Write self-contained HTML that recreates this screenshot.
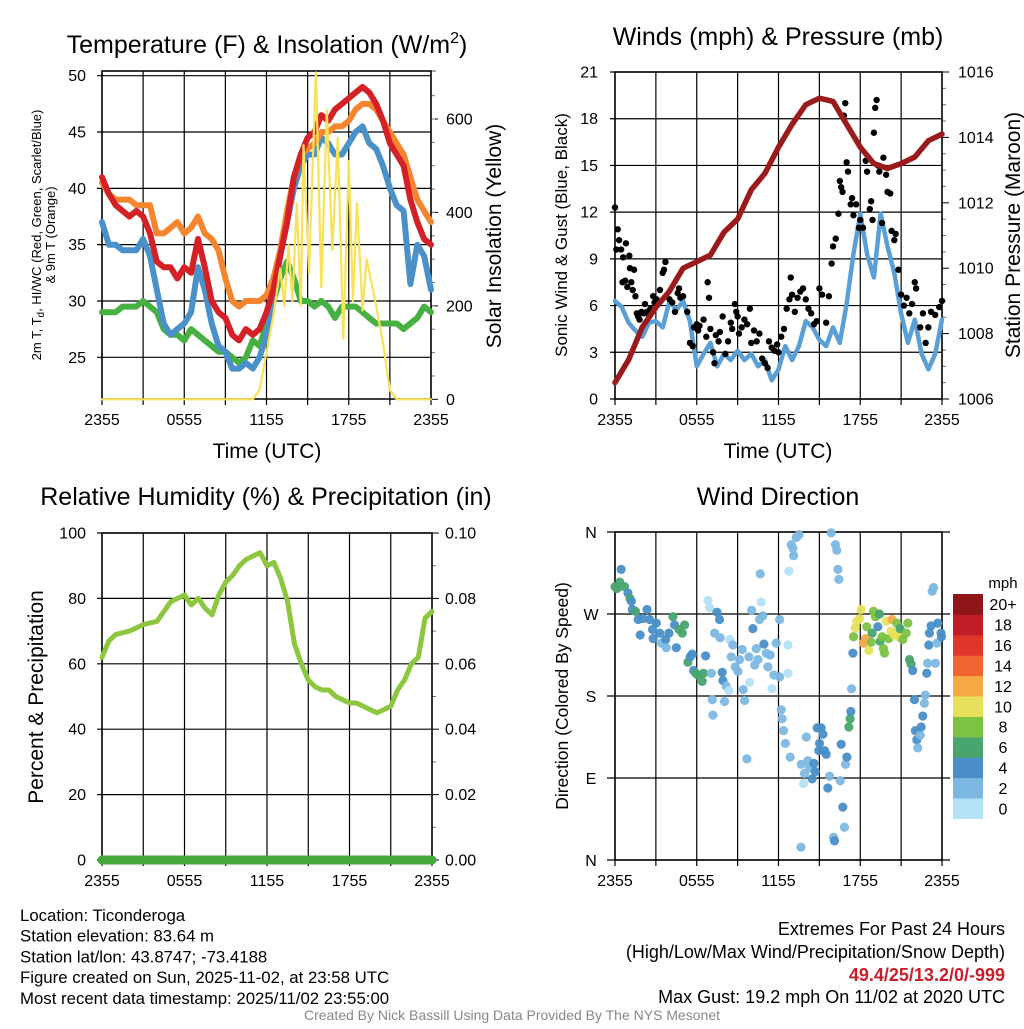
<!DOCTYPE html>
<html><head><meta charset="utf-8"><style>
body{margin:0;background:#fff;}
svg text{font-family:"Liberation Sans",sans-serif;fill:#000;}
</style></head><body>
<svg id="s" width="1024" height="1024" xmlns="http://www.w3.org/2000/svg"></svg>
<script>
// ---------- data ----------
const hours=[0,0.5,1,1.5,2,2.5,3,3.5,4,4.5,5,5.5,6,6.5,7,7.5,8,8.5,9,9.5,10,10.5,11,11.5,12,12.5,13,13.5,14,14.5,15,15.5,16,16.5,17,17.5,18,18.5,19,19.5,20,20.5,21,21.5,22,22.5,23,23.5,24];
const tempRed=[41,39.5,38.5,38,37.5,38,37.5,36,33.5,33,33,32,33,32.5,35.5,33,30,29,28.5,27,26.5,27.5,27,27.5,29,31,34,37,41,43,44.5,45,46.5,46,47,47.5,48,48.5,49,48.5,47.5,46,44,43,42,39,37,35.5,35];
const tempOrange=[40.5,39.5,39,39,39,38.5,38.5,38.5,36,36,36.5,37,36,36.5,37.5,36,35.5,34.5,32,30,29.5,30,30,30,30.5,32,34.5,38,41,43,43.5,44,45,45,45.5,45.5,46,47,47.5,47.5,47,46,45,44,43,41,39,38,37];
const tempBlue=[37,35,35,34.5,34.5,34.5,35.5,34,31,28,27,27.5,28,29,33,31,28,26,25.5,24,24,24.5,24,25,27,30,34,37,40,42,43,43,44.5,44,43,43,44,45,45.5,44,43.5,42,40,38.5,38,31.5,35,34,31];
const tempGreen=[29,29,29,29.5,29.5,29.5,30,29.5,29,27.5,27,27,26.5,27.5,27,26.5,26,25.5,25.5,25,24.5,25,26.5,26,28,30,32,33.5,32,30,30,29.5,30,29.5,28.5,29.5,29.5,29.5,29,28.5,28,28,28,28,27.5,28,28.5,29.5,29];
const solarHours=[0,11,11.5,12,12.5,13,13.3,13.6,13.9,14.2,14.5,14.7,15.1,15.6,16,16.4,16.8,17.2,17.6,18,18.3,18.6,19,19.3,20,20.5,21,21.5,24];
const solar=[0,0,20,100,180,280,200,330,210,420,200,544,270,700,240,620,320,560,130,510,210,420,190,300,200,120,20,0,0];
const windHours=[0,0.5,1,1.5,2,2.5,3,3.5,4,4.5,5,5.5,6,6.5,7,7.5,8,8.5,9,9.5,10,10.5,11,11.5,12,12.5,13,13.5,14,14.5,15,15.5,16,16.5,17,17.5,18,18.5,19,19.5,20,20.5,21,21.5,22,22.5,23,23.5,24];
const windSpeed=[6.3,5.9,4.9,4.4,4,4.9,5,4.6,6.3,5.7,6.3,5,2.1,2.9,3.6,2.1,2.9,2.5,3.1,2.5,2.9,2.1,2.5,1.2,1.9,3.4,2.5,3.4,5,4.6,3.8,3.4,4.6,3.6,6.1,9.3,11.9,9.3,7.8,11.9,9.8,8.1,5.5,3.6,5.1,2.9,1.9,2.9,5.1];
const pressHours=[0,1,2,3,4,5,6,7,8,9,10,11,12,13,14,15,16,17,18,19,20,21,22,23,24];
const pressure=[1006.5,1007.2,1008.2,1008.8,1009.3,1010.0,1010.2,1010.4,1011.1,1011.5,1012.4,1012.9,1013.7,1014.4,1015.0,1015.2,1015.1,1014.4,1013.7,1013.2,1013.05,1013.2,1013.4,1013.9,1014.1];
const gustHours=[0,0.1,0.2,0.3,0.45,0.55,0.6,0.75,0.8,0.9,1.05,1.1,1.2,1.3,1.4,1.5,1.6,1.7,1.8,1.95,2.1,2.2,2.35,2.5,2.6,2.8,2.9,3.05,3.3,3.5,3.6,3.7,4,4.2,4.4,4.6,4.7,4.8,5,5.3,5.5,5.7,5.8,6,6.1,6.2,6.5,6.7,6.8,6.9,7,7.2,7.3,7.4,7.6,7.7,7.9,8.1,8.3,8.5,8.6,8.8,8.9,9,9.1,9.3,9.5,9.7,9.9,10,10.2,10.4,10.6,10.8,11,11.2,11.3,11.5,11.7,11.9,12,12.2,12.4,12.6,12.8,12.9,13,13.2,13.4,13.6,13.8,14,14.2,14.4,14.6,14.8,15,15.2,15.5,15.7,15.9,16,16.2,16.4,16.5,16.6,16.7,16.8,16.9,17,17.1,17.3,17.4,17.5,17.7,17.9,18,18.2,18.4,18.5,18.7,18.8,18.9,19,19.1,19.2,19.3,19.4,19.6,19.7,19.9,20,20.2,20.3,20.5,20.6,20.8,21,21.2,21.4,21.6,21.8,22,22.1,22.4,22.6,22.8,23,23.2,23.5,23.8,24];
const gustSpeed=[12.3,9.6,10.9,10.2,9.6,7.5,9.1,7.6,10,7.2,9.2,8.4,7.5,7,8.3,6.6,5.5,5.3,5.1,5.6,5.5,6.1,5.6,5.3,5.8,6.6,6.2,6.4,7,8.1,8.3,8.8,6.4,6.2,5.6,6.8,7.1,6.5,6.6,5.6,3.6,3.4,4.6,4.8,4.4,4.7,5.1,4,7.5,6.5,4.5,3,2.3,4.1,3.7,4.3,5.3,2.9,3.7,4.9,4.5,6.1,5.6,5.3,4.2,4.6,5.1,4.8,5.8,3.6,4.4,3.7,4.2,2.6,2.3,2,3.7,3.3,3.1,3.5,3,4,4.5,5.8,6.4,7.8,6.7,5.6,6.5,6.9,7.1,6.4,5.8,5.5,4.8,5,7.1,6.7,4.9,6.6,8.7,9.8,10.3,11.9,14,13.6,13.3,18.2,19,15.2,14.6,12.5,12.9,11.8,12.5,11,11.5,11,15.3,14.6,12.2,12.7,11.5,17.1,18.7,19.2,15,14.6,11.3,15.5,14.4,13.3,13.2,10.8,10.2,10.6,8.3,6.7,6,6.5,5.5,6.1,7.5,7.1,4.6,5.5,3.6,4.6,5.6,5.4,5.9,6.3];
const rhHours=[0,0.5,1,2,3,4,4.5,5,5.5,6,6.5,7,7.5,8,8.5,9,9.5,10,10.5,11,11.5,12,12.5,13,13.5,14,14.5,15,15.5,16,16.5,17,17.5,18,18.5,19,19.5,20,20.5,21,21.5,22,22.5,23,23.5,24];
const rh=[62,67,69,70,72,73,76,79,80,81,78,80,77,75,81,85,87,90,92,93,94,90,91,86,79,66,60,55,53,52,52,50,49,48,48,47,46,45,46,47,52,55,60,62,74,76];
const precipHours=[0,24];
const precip=[0,0];
const dirHours=[0,0.15,0.35,0.45,0.7,0.95,1.1,1.2,1.27,1.5,1.7,1.85,2.05,2.35,2.55,2.75,2.8,3.03,3.28,3.4,3.72,3.77,3.96,4.25,4.37,4.5,4.7,4.94,5.11,5.35,5.52,5.67,5.77,5.92,6.09,6.4,6.5,6.65,6.82,6.94,7.07,7.14,7.19,7.31,7.48,7.67,7.72,7.87,7.92,8.04,8.16,8.36,8.41,8.53,8.65,8.82,9.02,9.14,9.34,9.41,9.51,9.68,9.83,9.88,10.03,10.12,10.25,10.37,10.49,10.61,10.66,10.73,10.85,10.93,11.1,11.22,11.39,11.52,11.66,11.83,12.08,12.08,12.2,12.27,12.37,12.51,12.69,12.69,12.76,12.86,12.93,13.06,13.11,13.3,13.5,13.65,13.67,13.84,13.91,14.04,14.16,14.28,14.47,14.6,14.7,14.84,14.96,15.01,15.13,15.26,15.38,15.5,15.62,15.75,15.87,16.04,16.11,16.18,16.28,16.36,16.43,16.53,16.6,16.72,16.84,16.92,17.02,17.16,17.26,17.31,17.36,17.46,17.51,17.63,17.75,17.95,18.07,18.24,18.39,18.48,18.63,18.8,18.87,18.97,19.12,19.29,19.41,19.46,19.61,19.7,19.78,19.9,20.09,20.26,20.34,20.5,20.67,20.82,20.92,21.12,21.37,21.49,21.61,21.73,21.85,21.98,22.05,22.15,22.22,22.4,22.47,22.59,22.71,22.78,22.88,22.95,23.03,23.08,23.2,23.28,23.38,23.52,23.62,23.69,23.93,23.96];
const dirDeg=[300,298,305,319,300,293,287,284,275,273,264,247,265,275,264,253,243,260,249,238,242,233,249,267,258,233,253,249,258,217,223,226,208,205,203,196,205,224,285,277,205,176,159,249,272,264,244,206,197,174,191,186,242,223,236,212,207,220,231,187,175,111,223,195,274,254,214,232,220,264,314,283,268,237,227,212,225,188,203,238,264,201,165,155,142,128,236,205,317,113,346,342,334,354,357,14,105,84,95,135,109,101,89,106,97,145,120,128,145,138,120,116,79,92,359,25,21,346,340,319,308,87,127,58,36,105,113,146,155,163,188,227,245,255,262,265,275,238,243,256,230,239,249,273,267,256,270,240,245,232,227,262,243,251,264,247,260,245,254,242,249,260,220,215,208,176,142,132,123,137,146,158,172,181,205,216,236,249,257,295,299,216,238,260,249,245];
const dirSpeed=[6,6,6,4,6,4,6,4,4,6,4,4,4,4,4,4,4,4,4,2,4,2,4,6,4,4,6,6,6,6,4,4,4,6,6,6,6,4,0,0,2,2,2,2,4,4,2,4,4,2,2,1,1,2,2,2,2,2,2,2,2,2,2,0,2,4,2,2,2,2,2,0,2,4,2,2,2,0,2,2,2,2,2,2,2,2,0,0,0,2,2,2,2,2,2,2,2,0,2,2,2,2,4,4,4,4,4,4,4,4,4,4,4,2,2,2,4,2,2,2,2,2,4,4,2,2,4,6,6,4,2,4,8,10,10,10,10,12,12,8,10,8,6,8,8,4,6,6,8,8,8,10,8,10,12,10,8,10,6,8,8,8,6,6,4,4,4,4,2,2,4,4,2,2,4,2,4,4,4,2,2,2,2,4,4,4];
const speedBins=["0","2","4","6","8","10","12","14","16","18","20+"];
const binColors=["#b4e2f7","#7db8e2","#4a8fc7","#48a56e","#7cc243","#e7e05a","#f6a945","#ee6530","#df352b","#bf1e27","#8f1519"];
const timeTicks=["2355","0555","1155","1755","2355"];

// ---------- helpers ----------
const S=document.getElementById('s');
const NS="http://www.w3.org/2000/svg";
function el(tag,attrs,parent){const e=document.createElementNS(NS,tag);for(const k in attrs)e.setAttribute(k,attrs[k]);(parent||S).appendChild(e);return e;}
function txt(x,y,s,size,anchor,extra){const t=el('text',Object.assign({x:x,y:y,'font-size':size,'text-anchor':anchor||'middle'},extra||{}));t.textContent=s;return t;}
function lin(d0,d1,r0,r1){return v=>r0+(v-d0)/(d1-d0)*(r1-r0);}
function poly(xs,ys,sx,sy,col,w,name){
  let d='';for(let i=0;i<xs.length;i++)d+=(i?'L':'M')+sx(xs[i]).toFixed(1)+','+sy(ys[i]).toFixed(1);
  const p=el('path',{d:d,fill:'none',stroke:col,'stroke-width':w,'stroke-linejoin':'round','stroke-linecap':'round'});
  
  
  return p;
}
function frame(L,T,R,B,sx,name){
  const g=el('g',{});
  
  
  for(let h=0;h<=24;h+=3){el('line',{x1:sx(h),y1:T,x2:sx(h),y2:B+6,stroke:'#000','stroke-width':1.2},g);}
  el('rect',{x:L,y:T,width:R-L,height:B-T,fill:'none',stroke:'#000','stroke-width':1.5},g);
  timeTicks.forEach((s,i)=>{const t=txt(sx(i*6),B+26,s,16);
    
    });
  return g;
}
function hgrid(vals,sy,L,R,labX,fmt,anchor){
  vals.forEach(v=>{el('line',{x1:L-5,y1:sy(v),x2:R,y2:sy(v),stroke:'#000','stroke-width':1.2});
    const t=txt(labX,sy(v)+5.5,fmt(v),16,anchor||'end');
    
    });
}
function rotText(x,y,s,size,name){const t=txt(0,0,s,size,'middle',{transform:`translate(${x},${y}) rotate(-90)`});
  
  return t;}

// ---------- panel 1: temperature ----------
{
const L=102,R=431,T=71,B=399;
const sx=lin(0,24,L,R), sy=lin(25,50,357.3,75.7), sr=lin(0,600,399.3,119);
hgrid([25,30,35,40,45,50],sy,L,R,86,v=>v);
el('line',{x1:L,y1:71,x2:R+5,y2:71,stroke:'#777','stroke-width':1.2});
[0,200,400,600].forEach(v=>{el('line',{x1:R,y1:sr(v),x2:R+7,y2:sr(v),stroke:'#000'});
  const t=txt(R+15,sr(v)+5.5,v,16,'start');
  
  });
for(let v=50;v<700;v+=50){el('line',{x1:R,y1:sr(v),x2:R+4,y2:sr(v),stroke:'#777'});}
frame(L,T,R,B,sx,'temperature-panel');
poly(hours,tempGreen,sx,sy,'#46b043',6,'dewpoint-line');
poly(hours,tempBlue,sx,sy,'#4a90c9',6,'windchill-line');
poly(hours,tempOrange,sx,sy,'#f5862f',6,'temp-9m-line');
poly(hours,tempRed,sx,sy,'#d42027',6,'temp-2m-line');
poly(solarHours,solar,sx,sr,'#f9e158',2.2,'solar-insolation-line');
const t1=txt(267,53,'',25);t1.innerHTML='Temperature (F) &amp; Insolation (W/m<tspan dy="-10" font-size="16">2</tspan><tspan dy="10">)</tspan>';


const xt=txt(267,458,'Time (UTC)',21);
const y1=txt(0,0,'',13,'middle',{transform:'translate(41,235) rotate(-90)'});
y1.innerHTML='2m T, T<tspan dy="3" font-size="10">d</tspan><tspan dy="-3">, HI/WC (Red, Green, Scarlet/Blue)</tspan>';

rotText(55,235,'& 9m T (Orange)',13,'y-axis-title-2');
rotText(501,236,'Solar Insolation (Yellow)',21,'right-axis-title');
}
// ---------- panel 2: winds ----------
{
const L=615,R=942,T=72,B=399;
const sx=lin(0,24,L,R), sy=lin(0,21,B,72), sp=lin(1006,1016,B,72);
hgrid([0,3,6,9,12,15,18,21],sy,L,R,598,v=>v);
for(let v=1006;v<=1016;v+=0.5){const maj=(v%2===0);el('line',{x1:R,y1:sp(v),x2:R+(maj?7:4),y2:sp(v),stroke:maj?'#000':'#777'});
  if(maj){const t=txt(R+16,sp(v)+5.5,v,16,'start');}}
frame(L,T,R,B,sx,'winds-panel');
poly(windHours,windSpeed,sx,sy,'#5a9fd6',4.5,'sonic-wind-line');
gustHours.forEach((h,i)=>{const c=el('circle',{cx:sx(h),cy:sy(gustSpeed[i]),r:3.2,fill:'#000'});
  
  });
poly(pressHours,pressure,sx,sp,'#9b1b1d',5.5,'pressure-line');
const tt=txt(778,45,'Winds (mph) & Pressure (mb)',25);
const xt=txt(778,458,'Time (UTC)',21);
rotText(567,235,'Sonic Wind & Gust (Blue, Black)',17,'y-axis-title');
rotText(1020,235,'Station Pressure (Maroon)',21,'right-axis-title');
}
// ---------- panel 3: humidity ----------
{
const L=102,R=432,T=533,B=860;
const sx=lin(0,24,L,R), sy=lin(0,100,B,T), sp=lin(0,0.1,B,T);
hgrid([0,20,40,60,80,100],sy,L,R,86,v=>v);
[0,0.02,0.04,0.06,0.08,0.1].forEach(v=>{el('line',{x1:R,y1:sp(v),x2:R+7,y2:sp(v),stroke:'#000'});
  const t=txt(R+13,sp(v)+5.5,v.toFixed(2),16,'start');});
for(let v=0.01;v<0.1;v+=0.02){el('line',{x1:R,y1:sp(v),x2:R+4,y2:sp(v),stroke:'#777'});}
frame(L,T,R,B,sx,'humidity-panel');
poly(rhHours,rh,sx,sy,'#8dc63f',5,'relative-humidity-line');
poly(precipHours,precip,sx,sp,'#45a93a',9,'precipitation-line');
const tt=txt(266,505,'Relative Humidity (%) & Precipitation (in)',25);
rotText(43,697,'Percent & Precipitation',21,'y-axis-title');
}
// ---------- panel 4: wind direction ----------
{
const L=615,R=942,T=532,B=860;
const sx=lin(0,24,L,R), sy=lin(0,360,B,T);
const dl=[[360,'N'],[270,'W'],[180,'S'],[90,'E'],[0,'N']];
dl.forEach(d=>{el('line',{x1:L-8,y1:sy(d[0]),x2:R+8,y2:sy(d[0]),stroke:'#000','stroke-width':1.2});
  const t=txt(591,sy(d[0])+6,d[1],16);});
frame(L,T,R,B,sx,'wind-direction-panel');
dirHours.forEach((h,i)=>{const b=Math.min(10,Math.floor(dirSpeed[i]/2));
  const c=el('circle',{cx:sx(h),cy:sy(dirDeg[i]),r:4.6,fill:binColors[b],opacity:0.95});
  
  });
const tt=txt(778,505,'Wind Direction',25);
rotText(568,696,'Direction (Colored By Speed)',17.5,'y-axis-title');
const cb=el('g',{});
const h=224.5/11;
for(let i=0;i<11;i++){const y=818.5-(i+1)*h;
  el('rect',{x:953,y:y,width:30,height:h+0.5,fill:binColors[i]},cb);
  const t=txt(1003,y+h/2+6,speedBins[i],16,'middle');}
const m=txt(1003,588,'mph',15);
}
// ---------- footer ----------
const left=['Location: Ticonderoga','Station elevation: 83.64 m','Station lat/lon: 43.8747; -73.4188','Figure created on Sun, 2025-11-02, at 23:58 UTC','Most recent data timestamp: 2025/11/02 23:55:00'];
left.forEach((s,i)=>{const t=txt(20,921+i*20.7,s,16.8,'start');});
const rt=[['Extremes For Past 24 Hours',935,'#000','normal'],['(High/Low/Max Wind/Precipitation/Snow Depth)',958,'#000','normal'],['49.4/25/13.2/0/-999',981,'#c8202a','bold'],['Max Gust: 19.2 mph On 11/02 at 2020 UTC',1003,'#000','normal']];
rt.forEach(r=>{const t=txt(1005,r[1],r[0],18,'end',{'font-weight':r[3],style:'fill:'+r[2]});});
const cr=txt(512,1020,'Created By Nick Bassill Using Data Provided By The NYS Mesonet',14,'middle',{style:'fill:#888'});

</script>
</body></html>
